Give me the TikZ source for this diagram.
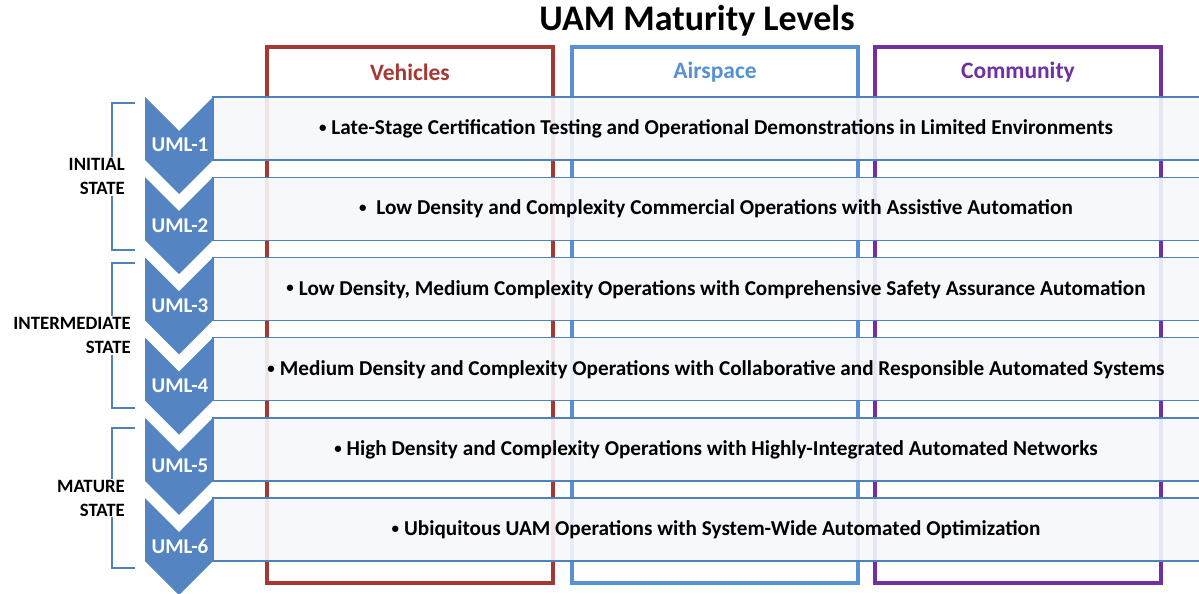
\documentclass[tikz,border=0pt]{standalone}
\usepackage{fontspec}
\setmainfont{Carlito}
\usepackage{tikz}
\usetikzlibrary{positioning, calc}

\definecolor{vehred}{RGB}{166,56,52}
\definecolor{airblue}{RGB}{88,144,212}
\definecolor{compurple}{RGB}{112,48,160}
\definecolor{bandblue}{RGB}{79,129,189}
\definecolor{chevblue}{RGB}{84,132,194}
\definecolor{bandfill}{RGB}{247,248,251}

\newcommand{\bul}{\raisebox{2.2pt}{\fontsize{15}{15}\selectfont\textbullet}\hspace{5pt}}

\tikzset{
    colbox/.style={line width=4pt},
    colhead/.style={font=\fontsize{23.5}{27}\selectfont\bfseries},
    band/.style={draw=bandblue, line width=1.4pt, fill=bandfill, fill opacity=0.9},
    chev/.style={fill=chevblue},
    umllab/.style={text=white, font=\fontsize{21}{25}\selectfont\bfseries},
    itemlab/.style={font=\fontsize{21.2}{25}\selectfont\bfseries},
    statelab/.style={anchor=east, align=right, fill=white, inner sep=1pt,
        font=\fontsize{18.8}{24}\selectfont\bfseries},
    brk/.style={draw=bandblue, line width=1.6pt}
}

\begin{document}
\begin{tikzpicture}[x=1pt, y=-1pt]
    \useasboundingbox (0,0) rectangle (1199,594);
    \fill[white] (0,0) rectangle (1199,594);
    \clip (0,0) rectangle (1199,594);

    \node[font=\fontsize{36}{40}\selectfont\bfseries] (title) at (697,21) {UAM Maturity Levels};

    % column boxes
    \foreach \name/\xa/\co/\lab in {
        vehicles/267/vehred/Vehicles,
        airspace/572/airblue/Airspace,
        community/875/compurple/Community}
    {
        \draw[colbox, draw=\co] (\xa,47) rectangle ++(286,536);
        \node[colhead, text=\co] (\name) at (\xa+143,72) {\lab};
    }

    % levels: bands and chevrons
    \foreach \i/\txt in {
        1/{Late-Stage Certification Testing and Operational Demonstrations in Limited Environments},
        2/{\ Low Density and Complexity Commercial Operations with Assistive Automation},
        3/{Low Density, Medium Complexity Operations with Comprehensive Safety Assurance Automation},
        4/{Medium Density and Complexity Operations with Collaborative and Responsible Automated Systems},
        5/{High Density and Complexity Operations with Highly-Integrated Automated Networks},
        6/{Ubiquitous UAM Operations with System-Wide Automated Optimization}}
    {
        \pgfmathsetmacro{\yt}{97+80.2*(\i-1)}
        \draw[band] (213,\yt) rectangle ++(1000,63);
        \fill[chev] (145,\yt) -- (179,\yt+34) -- (213,\yt)
            -- (213,\yt+63) -- (179,\yt+97) -- (145,\yt+63) -- cycle;
        \node[umllab] (uml\i) at (180,\yt+48) {UML-\i};
        \node[itemlab] (item\i) at (716,\yt+32) {\bul\txt};
    }

    % state brackets
    \foreach \s/\ya/\yb/\xr/\lab in {
        initial/103/250/126/{INITIAL\\STATE},
        intermediate/263/408/132/{INTERMEDIATE\\STATE},
        mature/428/568/126/{MATURE\\STATE}}
    {
        \draw[brk] (135,\ya) -- (112,\ya) -- (112,\yb) -- (135,\yb);
        \node[statelab] (\s) at (\xr,{(\ya+\yb)/2}) {\lab};
    }
\end{tikzpicture}
\end{document}
